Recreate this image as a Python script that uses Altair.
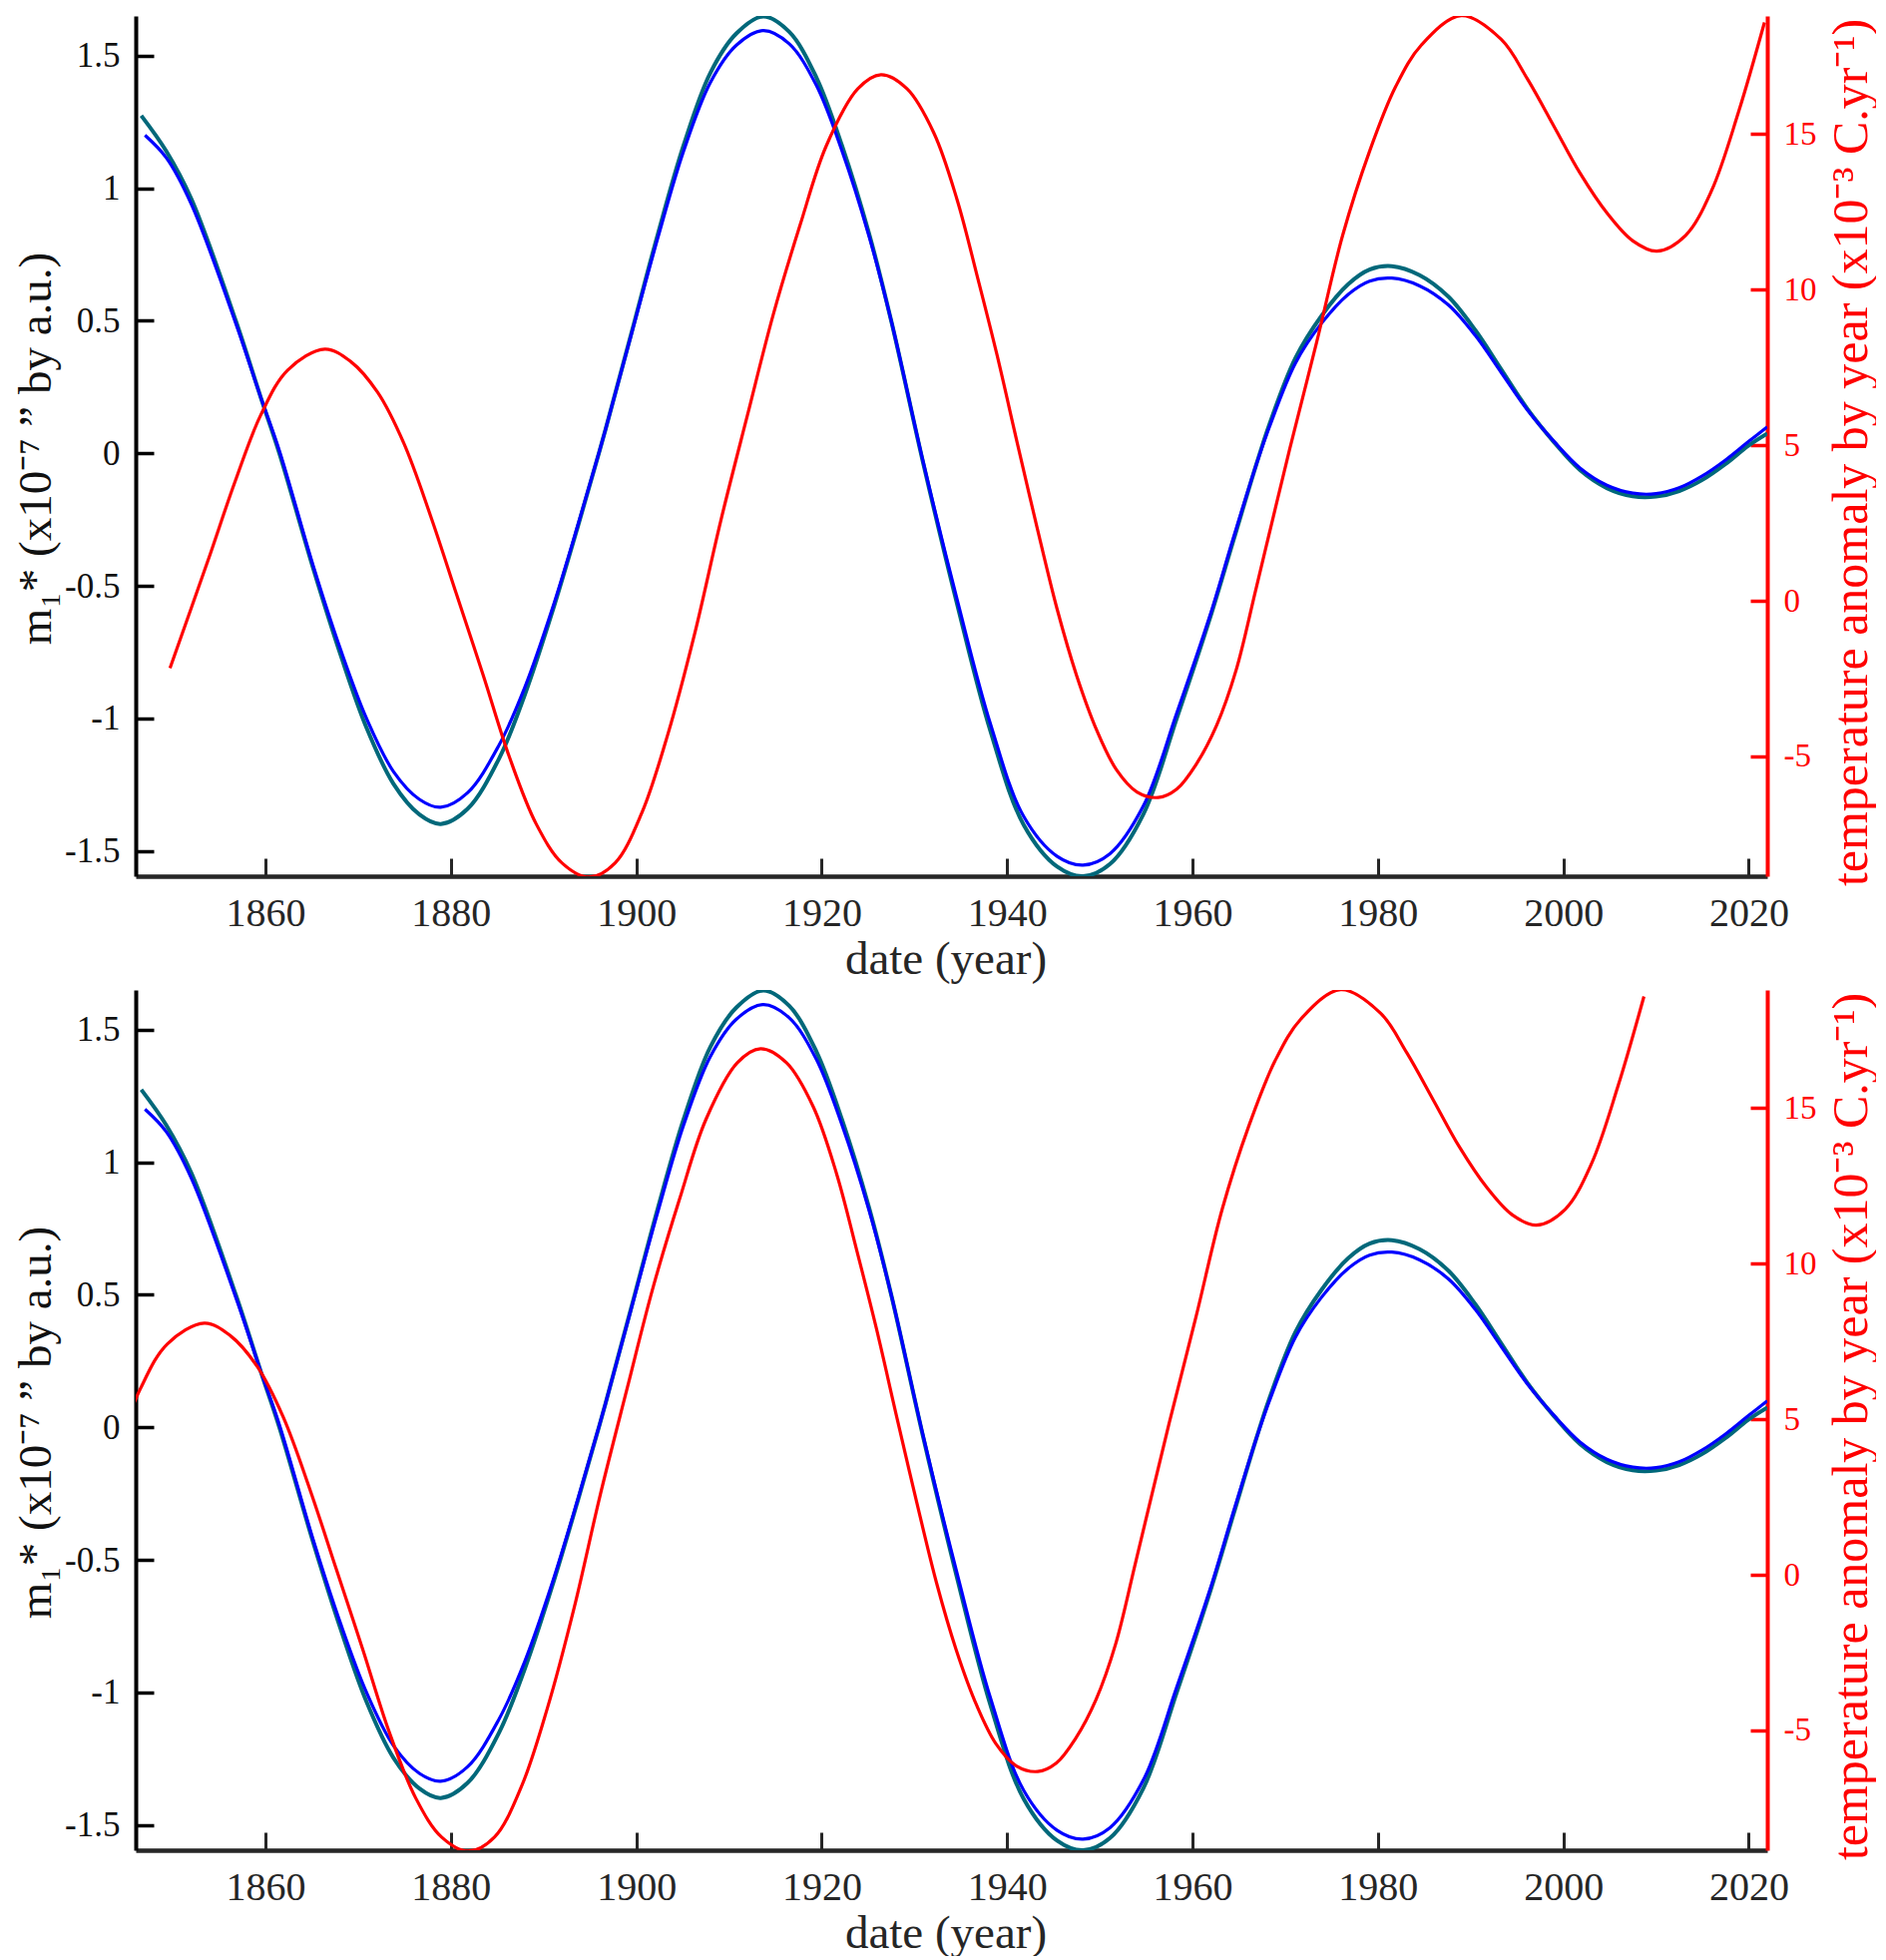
import altair as alt
import pandas as pd

# ---------------- data ----------------
M_TEAL_YEARS = [1846.6, 1849.3, 1852.0, 1856.8, 1859.5, 1861.5, 1865.2, 1868.1, 1870.9, 1873.8,
                1876.6, 1878.9, 1881.8, 1885.2, 1888.0, 1890.9, 1893.7, 1896.6, 1899.4, 1902.3,
                1905.1, 1908.0, 1910.8, 1913.7, 1916.5, 1919.4, 1922.2, 1925.1, 1927.5, 1931.0,
                1934.6, 1938.2, 1941.8, 1945.4, 1948.2, 1951.1, 1954.7, 1958.3, 1961.9, 1964.4,
                1966.9, 1968.3, 1971.1, 1973.9, 1976.8, 1979.1, 1981.5, 1984.5, 1987.6, 1990.5,
                1993.3, 1996.1, 1999.0, 2001.8, 2004.7, 2007.5, 2010.0, 2012.5, 2015.0, 2017.5,
                2020.0, 2022.0]
M_TEAL = [1.274, 1.14, 0.96, 0.50, 0.21, 0.00, -0.44, -0.76, -1.035, -1.246,
          -1.362, -1.398, -1.341, -1.151, -0.908, -0.602, -0.275, 0.08, 0.444, 0.824,
          1.162, 1.436, 1.584, 1.648, 1.59, 1.42, 1.16, 0.83, 0.50, -0.044,
          -0.567, -1.047, -1.402, -1.559, -1.595, -1.549, -1.361, -1.00, -0.62, -0.33,
          -0.04, 0.11, 0.359, 0.518, 0.638, 0.693, 0.706, 0.672, 0.591, 0.465,
          0.317, 0.169, 0.042, -0.063, -0.131, -0.162, -0.163, -0.142, -0.10, -0.04,
          0.03, 0.075]

M_BLUE_YEARS = [1847.0, 1849.3, 1852.0, 1856.8, 1859.5, 1861.5, 1865.2, 1868.1, 1870.9, 1873.8,
                1876.6, 1878.9, 1881.8, 1885.2, 1888.0, 1890.9, 1893.7, 1896.6, 1899.4, 1902.3,
                1905.1, 1908.0, 1910.8, 1913.7, 1916.5, 1919.4, 1922.2, 1925.1, 1927.5, 1931.0,
                1934.6, 1938.2, 1941.8, 1945.4, 1948.2, 1951.1, 1954.7, 1958.3, 1961.9, 1964.4,
                1966.9, 1968.3, 1971.1, 1973.9, 1976.8, 1979.1, 1981.5, 1984.5, 1987.6, 1990.5,
                1993.3, 1996.1, 1999.0, 2001.8, 2004.7, 2007.5, 2010.0, 2012.5, 2015.0, 2017.5,
                2020.0, 2022.0]
M_BLUE = [1.20, 1.115, 0.94, 0.49, 0.21, 0.01, -0.43, -0.74, -1.00, -1.20,
          -1.305, -1.335, -1.28, -1.10, -0.88, -0.59, -0.27, 0.08, 0.44, 0.81,
          1.14, 1.40, 1.54, 1.595, 1.545, 1.39, 1.14, 0.82, 0.50, -0.04,
          -0.55, -1.02, -1.37, -1.52, -1.553, -1.51, -1.33, -0.98, -0.61, -0.32,
          -0.04, 0.10, 0.34, 0.49, 0.60, 0.65, 0.661, 0.632, 0.56, 0.445,
          0.305, 0.165, 0.045, -0.055, -0.12, -0.15, -0.152, -0.13, -0.085, -0.025,
          0.045, 0.10]

TEMP_YEARS = [1849.7, 1853.8, 1856.7, 1859.5, 1862.4, 1866.4, 1869.2, 1872.1, 1874.9, 1877.8,
              1880.6, 1883.5, 1886.3, 1889.2, 1892.0, 1894.9, 1897.7, 1900.6, 1903.4, 1906.3,
              1909.1, 1912.0, 1914.8, 1917.7, 1920.5, 1923.9, 1926.4, 1929.2, 1932.1, 1934.6,
              1936.8, 1938.9, 1941.1, 1943.2, 1945.4, 1947.5, 1949.7, 1951.8, 1954.0, 1956.3,
              1958.3, 1960.4, 1962.6, 1964.7, 1966.9, 1970.5, 1973.4, 1976.2, 1979.1, 1981.9,
              1984.7, 1989.0, 1993.3, 1996.1, 1999.0, 2001.8, 2004.7, 2007.5, 2010.1, 2013.2,
              2016.0, 2018.9, 2021.7]
TEMP = [-2.16, 1.30, 3.82, 5.98, 7.42, 8.09, 7.69, 6.70, 5.08, 2.74,
        0.22, -2.40, -5.01, -7.17, -8.43, -8.88, -8.43, -6.81, -4.29, -1.05,
        2.56, 5.98, 9.23, 12.11, 14.63, 16.46, 16.91, 16.46, 15.04, 12.90,
        10.41, 7.92, 5.07, 2.40, -0.27, -2.40, -4.18, -5.43, -6.14, -6.32,
        -6.05, -5.25, -4.00, -2.23, 0.45, 4.90, 8.32, 11.75, 14.45, 16.52,
        17.87, 18.81, 18.05, 16.79, 15.25, 13.75, 12.47, 11.57, 11.24, 11.75,
        13.19, 15.71, 18.59]

LAG_YEARS = 13  # lower panel: temperature series shifted back by 13 years

X_TICKS = [1860, 1880, 1900, 1920, 1940, 1960, 1980, 2000, 2020]
M_TICKS = [-1.5, -1, -0.5, 0, 0.5, 1, 1.5]
T_TICKS = [-5, 0, 5, 10, 15]
X_DOMAIN = [1846, 2022]
M_DOMAIN = [-1.595, 1.65]
T_DOMAIN = [-8.85, 18.8]

LEFT_TITLE = "m\u2081* (x10\u207b\u2077 \u201d by a.u.)"
RIGHT_TITLE = "temperature anomaly by year (x10\u207b\u00b3 C.yr\u207b\u00b9)"
X_TITLE = "date (year)"

TEAL = "#00687a"
BLUE = "#0000ff"
RED = "#ff0000"
DARK = "#262626"
FONT = "Liberation Serif"

W, H = 1635, 862

teal_df = pd.DataFrame({"year": M_TEAL_YEARS, "m": M_TEAL})
blue_df = pd.DataFrame({"year": M_BLUE_YEARS, "m": M_BLUE})
red_top = pd.DataFrame({"year": TEMP_YEARS, "t": TEMP})
red_bot = pd.DataFrame({"year": [y - LAG_YEARS for y in TEMP_YEARS], "t": TEMP})


def x_enc():
    return alt.X(
        "year:Q",
        scale=alt.Scale(domain=X_DOMAIN, nice=False, zero=False),
        title=X_TITLE,
        axis=alt.Axis(
            values=X_TICKS, format="d", grid=False,
            domainColor=DARK, domainWidth=4.5,
            tickColor=DARK, tickWidth=3, tickSize={"expr": "-18"},
            labelPadding=35, labelFont=FONT, labelFontSize=40, labelColor=DARK,
            labelBaseline="top",
            titleFont=FONT, titleFontSize=47, titleFontWeight="normal", titleColor=DARK,
            titleY=83, titleBaseline="middle", titleX=W / 2 - 6,
        ),
    )


def m_enc():
    return alt.Y(
        "m:Q",
        scale=alt.Scale(domain=M_DOMAIN, nice=False, zero=False),
        title=LEFT_TITLE,
        axis=alt.Axis(
            orient="left", values=M_TICKS, labelExpr="'' + datum.value", grid=False,
            domainColor="#000000", domainWidth=4,
            tickColor="#000000", tickWidth=3.5, tickSize={"expr": "-18"},
            labelPadding=34, labelFont=FONT, labelFontSize=35, labelColor="#111111",
            titleFont=FONT, titleFontSize=47, titleFontWeight="normal", titleColor="#111111",
            titleAngle=270, titleX=-100, titleY=433, titleBaseline="middle", titleAlign="center",
        ),
    )


def t_enc():
    return alt.Y(
        "t:Q",
        scale=alt.Scale(domain=T_DOMAIN, nice=False, zero=False),
        title=RIGHT_TITLE,
        axis=alt.Axis(
            orient="right", values=T_TICKS, labelExpr="'' + datum.value", grid=False,
            domainColor=RED, domainWidth=4,
            tickColor=RED, tickWidth=3.5, tickSize={"expr": "-17"},
            labelPadding=33, labelFont=FONT, labelFontSize=33, labelColor=RED,
            titleFont=FONT, titleFontSize=50, titleFontWeight="normal", titleColor=RED,
            titleAngle=270, titleX=84, titleY=437, titleBaseline="middle", titleAlign="center",
        ),
    )


def panel(red_df):
    teal = alt.Chart(teal_df).mark_line(color=TEAL, strokeWidth=4, interpolate="catmull-rom", clip=True).encode(
        x=x_enc(), y=m_enc())
    blue = alt.Chart(blue_df).mark_line(color=BLUE, strokeWidth=3.2, interpolate="catmull-rom", clip=True).encode(
        x=x_enc(), y=m_enc())
    red = alt.Chart(red_df).mark_line(color=RED, strokeWidth=3.2, interpolate="catmull-rom", clip=True).encode(
        x=x_enc(), y=t_enc())
    return alt.layer(alt.layer(teal, blue), red).resolve_scale(y="independent").properties(
        width=W, height=H, view=alt.ViewBackground(stroke="transparent", strokeWidth=0))


chart = alt.vconcat(panel(red_top), panel(red_bot), spacing=8).properties(
    padding={"top": 8, "left": 4, "right": 0, "bottom": 0}
).configure_view(stroke="transparent", strokeWidth=0, strokeOpacity=0).configure(background="white")

chart.save("out.html", embed_options={"renderer": "svg", "actions": False})
